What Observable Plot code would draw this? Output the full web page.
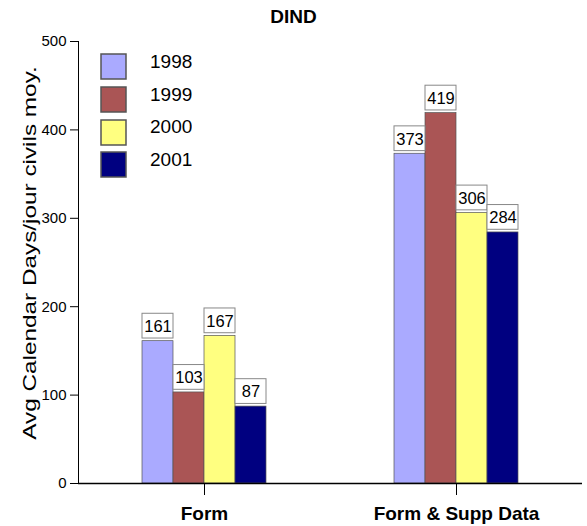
<!DOCTYPE html>
<html>
<head>
<meta charset="utf-8">
<script src="https://cdn.jsdelivr.net/npm/d3@7"></script>
<script src="https://cdn.jsdelivr.net/npm/@observablehq/plot@0.6"></script>
<style>
  html, body { margin: 0; padding: 0; background: white; }
  #wrap { position: relative; width: 587px; height: 526px; font-family: "Liberation Sans", Arial, sans-serif; }
  #title { position: absolute; left: 0; width: 587px; top: 6px; text-align: center; font-weight: bold; font-size: 19px; }
  #ylabel { position: absolute; left: 30px; top: 253px; font-size: 19px; white-space: nowrap;
            transform: translate(-50%, -50%) rotate(-90deg) scaleX(1.28); }
  #legend { position: absolute; left: 101px; top: 51px; }
  #chart { position: absolute; left: 0; top: 0; }
  g[aria-label^="fx-axis"] text { font-weight: bold; font-size: 19px; }
  g[aria-label^="y-axis"] text { font-size: 15px; }
</style>
</head>
<body>
<div id="wrap">
  <div id="chart"></div>
  <div id="title"></div>
  <div id="ylabel"></div>
  <div id="legend"></div>
</div>
<script>
const titleText = "DIND";
const yLabel = "Avg Calendar Days/jour civils moy.";
const groups = ["Form", "Form & Supp Data"];
const years = ["1998", "1999", "2000", "2001"];
const formValues = [161, 103, 167, 87];
const suppValues = [373, 419, 306, 284];
const colors = ["#aaaaff", "#aa5555", "#ffff80", "#000080"];
const yTicks = [0, 100, 200, 300, 400, 500];

const series = [formValues, suppValues];
const data = groups.flatMap((g, i) => years.map((y, j) => ({group: g, year: y, value: series[i][j]})));

const chart = Plot.plot({
  width: 587,
  height: 526,
  marginLeft: 77,
  marginRight: 5,
  marginTop: 41,
  marginBottom: 43,
  style: {fontFamily: "Liberation Sans, Arial, sans-serif", fontSize: "15px", color: "#000", background: "white"},
  facet: {data, x: "group"},
  fx: {domain: groups, padding: 0, axis: "bottom", label: null, tickSize: 12, tickPadding: 11},
  x: {domain: years, paddingInner: 0, paddingOuter: 2, axis: null},
  y: {domain: [0, 500], ticks: yTicks, tickSize: 8, tickPadding: 4, line: true, label: null},
  color: {domain: years, range: colors},
  marks: [
    Plot.barY(data, {x: "year", y: "value", fill: "year", stroke: "#555", strokeWidth: 0.7}),
    Plot.barY(data, {x: "year", y1: d => d.value + 3, y2: d => d.value + 31, fill: "white", stroke: "#888", strokeWidth: 1}),
    Plot.text(data, {x: "year", y: "value", text: d => String(d.value), dy: -14.5, fontSize: 16.5, fill: "#000"}),
    Plot.ruleY([0], {stroke: "#000", strokeWidth: 1.5})
  ]
});
document.getElementById("chart").appendChild(chart);
document.getElementById("title").textContent = titleText;
document.getElementById("ylabel").textContent = yLabel;

const legend = Plot.legend({
  color: {domain: years, range: colors},
  legend: "swatches",
  swatchSize: 25,
  columns: 1,
  style: {fontFamily: "Liberation Sans, Arial, sans-serif", fontSize: "19px", color: "#000"}
});
document.getElementById("legend").appendChild(legend);
legend.querySelectorAll("svg").forEach(s => {
  s.style.marginRight = "24px";
  s.querySelectorAll("rect").forEach(r => { r.setAttribute("stroke", "#555"); r.setAttribute("stroke-width", "1.5"); });
});
legend.querySelectorAll("div").forEach(d => { d.style.marginBottom = "0px"; d.style.height = "31.7px"; d.style.alignItems = "center"; });
</script>
</body>
</html>
